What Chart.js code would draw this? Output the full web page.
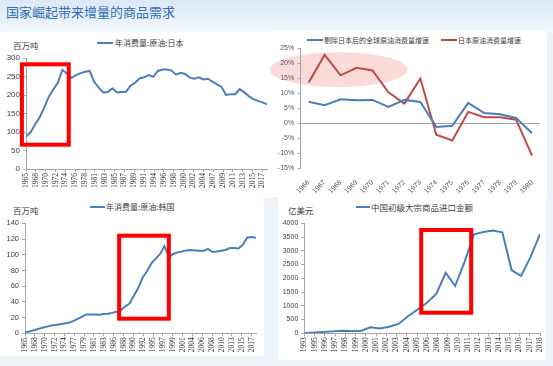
<!DOCTYPE html>
<html><head><meta charset="utf-8">
<script src="https://cdn.jsdelivr.net/npm/chart.js@4.4.0/dist/chart.umd.min.js"></script>
<style>
html,body{margin:0;padding:0;width:553px;height:366px;overflow:hidden;background:#eef3fa;font-family:"Noto Sans CJK SC",sans-serif;}
.abs{position:absolute;}
.panel{position:absolute;background:#fff;}
.t{position:absolute;white-space:nowrap;color:#404040;line-height:1;}
.lg{position:absolute;height:2px;}
canvas{position:absolute;}
</style></head>
<body>
<div class="abs" style="left:0;top:0;width:553px;height:34px;background:linear-gradient(180deg,#dde8f6 0%,#eaf1fa 60%,#f4f8fc 100%);"></div>
<div class="panel" style="left:0;top:32px;width:272px;height:166px;"></div>
<div class="panel" style="left:272px;top:31px;width:275px;height:166px;"></div>
<div class="panel" style="left:0;top:197px;width:264px;height:159px;"></div>
<div class="panel" style="left:278px;top:197px;width:268px;height:163px;"></div>
<div class="t" style="left:6px;top:5px;font-size:13px;color:#2f6db5;">国家崛起带来增量的商品需求</div>

<div class="t" style="left:13px;top:41px;font-size:8.5px;">百万吨</div>
<div id="lg1"></div>
<div id="lg2"></div>
<div class="t" style="left:13px;top:206px;font-size:8.5px;">百万吨</div>
<div id="lg3"></div>
<div class="t" style="left:288px;top:206px;font-size:8.5px;">亿美元</div>
<div id="lg4"></div>

<canvas id="c1" width="275" height="146" style="left:0;top:50px;"></canvas>
<canvas id="c2" width="278" height="165" style="left:270px;top:30px;"></canvas>
<canvas id="c3" width="275" height="151" style="left:0;top:215px;"></canvas>
<canvas id="c4" width="283" height="151" style="left:270px;top:215px;"></canvas>

<script>
// ---------- data ----------
const jpYears = [1965,1966,1967,1968,1969,1970,1971,1972,1973,1974,1975,1976,1977,1978,1979,1980,1981,1982,1983,1984,1985,1986,1987,1988,1989,1990,1991,1992,1993,1994,1995,1996,1997,1998,1999,2000,2001,2002,2003,2004,2005,2006,2007,2008,2009,2010,2011,2012,2013,2014,2015,2016,2017,2018];
const jpOil = [88,99,120,140,165,195,215,233,268,258,246,254,259,263,265,235,220,207,208,218,207,208,209,225,233,245,248,254,249,265,269,269,266,255,260,257,247,244,248,242,244,236,229,222,200,202,202,216,207,197,189,184,180,175];
const jpTickLabels = ['1965','1968','1970','1972','1974','1976','1978','1981','1983','1985','1987','1989','1991','1994','1996','1998','2000','2002','2004','2007','2009','2011','2013','2015','2017'];
const jpSeriesName = '年消费量:原油:日本';

const growthYears = ['1966','1967','1968','1969','1970','1971','1972','1973','1974','1975','1976','1977','1978','1979','1980'];
const worldExJpGrowth = [7.2,6.0,8.0,7.7,7.8,5.5,7.8,7.1,-1.2,-0.8,6.8,3.4,3.0,1.8,-3.3];
const japanGrowth = [13.6,22.8,16.0,18.5,17.6,10.3,6.6,14.9,-3.8,-5.7,3.8,2.0,2.0,1.2,-10.8];
const growthNames = ['剔除日本后的全球原油消费量增速','日本原油消费量增速'];

const krYears = [1965,1966,1967,1968,1969,1970,1971,1972,1973,1974,1975,1976,1977,1978,1979,1980,1981,1982,1983,1984,1985,1986,1987,1988,1989,1990,1991,1992,1993,1994,1995,1996,1997,1998,1999,2000,2001,2002,2003,2004,2005,2006,2007,2008,2009,2010,2011,2012,2013,2014,2015,2016,2017,2018];
const krOil = [1.3,2.3,3.8,5.5,7,8.5,9.8,10.5,11.5,12.5,13.5,15.5,18,21,24,24,24,23.5,24.5,25,26,27.5,29.5,34,38,48,58,71,79,89,95,101,111,97,101,103,104,105.5,106,105.5,105,105,107.5,103.5,104,105,106,108.5,108.5,108,113,122,122.5,121.5];
const krTickLabels = ['1965','1968','1970','1972','1974','1977','1979','1981','1983','1986','1988','1990','1992','1995','1997','1999','2001','2004','2006','2008','2010','2013','2015','2017'];
const krSeriesName = '年消费量:原油:韩国';

const cnYears = [1993,1994,1995,1996,1997,1998,1999,2000,2001,2002,2003,2004,2005,2006,2007,2008,2009,2010,2011,2012,2013,2014,2015,2016,2017,2018];
const cnImports = [15,25,45,70,95,85,85,218,175,240,340,620,860,1110,1430,2200,1720,2600,3600,3680,3740,3670,2290,2090,2780,3610];
const cnTickLabels = ['1993','1995','1996','1997','1998','1999','2000','2001','2002','2003','2004','2005','2006','2008','2009','2010','2011','2012','2013','2014','2015','2016','2017','2018'];
const cnSeriesName = '中国初级大宗商品进口金额';

// ---------- styles ----------
const BLUE = '#4a7ebb', RED = '#be4b48', AXIS = '#a6a6a6', TXT = '#404040';
Chart.defaults.font.family = 'Liberation Sans';
Chart.defaults.color = TXT;

function legend(id, items, size, top){
  const el = document.getElementById(id);
  items.forEach(it=>{
    const l = document.createElement('div'); l.className='lg';
    l.style.cssText = `left:${it.lx}px;top:${top-1}px;width:${it.lw}px;background:${it.color};`;
    el.appendChild(l);
    const t = document.createElement('div'); t.className='t';
    t.style.cssText = `left:${it.tx}px;top:${top-size*0.45}px;font-size:${size}px;`;
    t.textContent = it.text; el.appendChild(t);
  });
}
legend('lg1',[{lx:97,lw:16,tx:115,color:BLUE,text:jpSeriesName}],8,43);
legend('lg2',[{lx:307,lw:16,tx:324,color:BLUE,text:growthNames[0]},{lx:441,lw:16,tx:458,color:RED,text:growthNames[1]}],7,40);
legend('lg3',[{lx:90,lw:15,tx:106,color:BLUE,text:krSeriesName}],8,207);
legend('lg4',[{lx:356,lw:14,tx:371,color:BLUE,text:cnSeriesName}],8.5,207);

function yAxis(min,max,step,w,size,fmt){
  return {min,max,
    ticks:{stepSize:step,font:{size},color:TXT,padding:3,callback:fmt||(v=>v)},
    grid:{drawOnChartArea:false,tickLength:3,color:AXIS},
    border:{color:AXIS},
    afterFit:s=>{s.width=w;}};
}
function labelAxis(min,max,labels,h){
  const first=+labels[0], last=+labels[labels.length-1];
  return {type:'linear',min,max,
    afterBuildTicks:s=>{s.ticks=labels.map((l,k)=>({value:first+k*(last-first)/(labels.length-1)}));},
    ticks:{autoSkip:false,minRotation:90,maxRotation:90,padding:1,font:{size:7.5,family:'Liberation Serif'},color:'#333',callback:(v,i)=>labels[i]},
    grid:{drawOnChartArea:false,tickLength:3,color:AXIS},
    border:{color:AXIS},
    afterFit:s=>{s.height=h;}};
}
const boxPlugin = {
  id:'redBox',
  afterDatasetsDraw(chart,args,opts){
    if(!opts||opts.x0===undefined) return;
    const {ctx,scales:{x,y}} = chart;
    const X0=x.getPixelForValue(opts.x0), X1=x.getPixelForValue(opts.x1);
    const Y0=y.getPixelForValue(opts.y1), Y1=y.getPixelForValue(opts.y0);
    ctx.save(); ctx.strokeStyle='#ff0000'; ctx.lineWidth=4;
    ctx.strokeRect(X0,Y0,X1-X0,Y1-Y0); ctx.restore();
  }
};
const ellipsePlugin = {
  id:'ellipse',
  beforeDraw(chart,args,opts){
    if(!opts||opts.cx===undefined) return;
    const {ctx,scales:{x,y}} = chart;
    const cx=x.getPixelForValue(opts.cx), cy=y.getPixelForValue(opts.cy);
    const rx=Math.abs(x.getPixelForValue(opts.cx+opts.rx)-cx), ry=Math.abs(y.getPixelForValue(opts.cy+opts.ry)-cy);
    ctx.save(); ctx.fillStyle='rgba(243,150,150,0.35)';
    ctx.beginPath(); ctx.ellipse(cx,cy,rx,ry,0,0,Math.PI*2); ctx.fill(); ctx.restore();
  }
};
Chart.register(boxPlugin, ellipsePlugin);

const base = {responsive:false,animation:false,devicePixelRatio:1,
  elements:{line:{tension:0,borderWidth:2},point:{radius:0}}};
function xy(xs,ys){return xs.map((v,i)=>({x:v,y:ys[i]}));}

// Chart 1: Japan
new Chart(document.getElementById('c1'),{type:'line',
  data:{datasets:[{label:jpSeriesName,data:xy(jpYears,jpOil),borderColor:BLUE}]},
  options:{...base,layout:{padding:{top:8,right:8,left:0,bottom:0}},
    plugins:{legend:{display:false},tooltip:{enabled:false},redBox:{x0:1964.1,x1:1974.4,y0:65.7,y1:283}},
    scales:{x:labelAxis(jpYears[0],jpYears[jpYears.length-1],jpTickLabels,27),
            y:yAxis(0,300,50,26,8)}}});

// Chart 2: growth
new Chart(document.getElementById('c2'),{type:'line',
  data:{labels:growthYears,datasets:[
    {label:growthNames[0],data:worldExJpGrowth,borderColor:BLUE},
    {label:growthNames[1],data:japanGrowth,borderColor:RED}]},
  options:{...base,layout:{padding:{top:18.3,right:8,left:0,bottom:0}},
    plugins:{legend:{display:false},tooltip:{enabled:false},ellipse:{cx:1.88,cy:17.9,rx:4.31,ry:5.8}},
    scales:{
      x:{type:'category',offset:true,
         ticks:{autoSkip:false,minRotation:45,maxRotation:45,padding:2,font:{size:7},color:'#595959'},
         grid:{display:false},border:{display:false},afterFit:s=>{s.height=26.7;}},
      y:{min:-15,max:25,
         ticks:{stepSize:5,font:{size:7},color:'#595959',padding:3.5,callback:v=>v+'%'},
         grid:{drawOnChartArea:true,color:c=>c.tick&&c.tick.value===0?AXIS:'rgba(0,0,0,0)',tickColor:AXIS,tickLength:3},
         border:{color:AXIS},afterFit:s=>{s.width=30.7;}}}}});

// Chart 3: Korea
new Chart(document.getElementById('c3'),{type:'line',
  data:{datasets:[{label:krSeriesName,data:xy(krYears,krOil),borderColor:BLUE}]},
  options:{...base,layout:{padding:{top:8.3,right:19,left:0,bottom:0}},
    plugins:{legend:{display:false},tooltip:{enabled:false},redBox:{x0:1986.6,x1:1998.0,y0:18.6,y1:124.2}},
    scales:{x:labelAxis(krYears[0],krYears[krYears.length-1],krTickLabels,32.7),
            y:yAxis(0,140,20,25,7.5)}}});

// Chart 4: China
new Chart(document.getElementById('c4'),{type:'line',
  data:{datasets:[{label:cnSeriesName,data:xy(cnYears,cnImports),borderColor:BLUE}]},
  options:{...base,layout:{padding:{top:8.3,right:13,left:0,bottom:0}},
    plugins:{legend:{display:false},tooltip:{enabled:false},redBox:{x0:2005.4,x1:2010.7,y0:749,y1:3756}},
    scales:{x:labelAxis(cnYears[0],cnYears[cnYears.length-1],cnTickLabels,32.7),
            y:yAxis(0,4000,500,34.3,7)}}});
</script>
</body></html>
